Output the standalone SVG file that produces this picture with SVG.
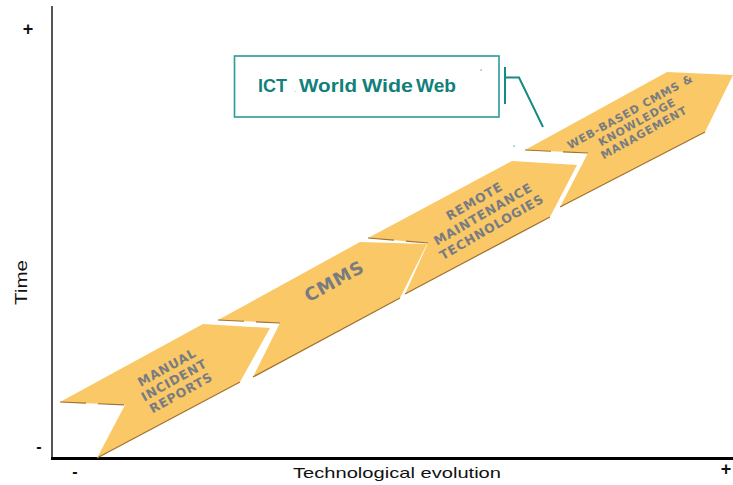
<svg xmlns="http://www.w3.org/2000/svg" width="733" height="485" viewBox="0 0 733 485">
  <style>
    .stage { fill: #FAC866; }
    .edge { fill: none; stroke: #A0712F; stroke-width: 1.2; }
    .notch { fill: none; stroke: #A0712F; stroke-width: 1.2; stroke-dasharray: 26 12; }
    .lbl { font-family: "DejaVu Sans", Verdana, sans-serif; font-weight: bold; fill: #787C81; text-anchor: middle; letter-spacing: 0.8px; }
    .axis-txt { font-family: "Liberation Sans", Arial, sans-serif; fill: #111; }
    .ict { font-family: "Liberation Sans", Arial, sans-serif; font-weight: bold; font-size: 18px; fill: #127F7B; }
    .callout { fill: none; stroke: #168A85; stroke-width: 2; }
  </style>

  <rect width="733" height="485" fill="#FFFFFF"/>

  <!-- axes -->
  <g id="axes">
    <line x1="52" y1="6" x2="52" y2="459" stroke="#555" stroke-width="2"/>
    <line x1="51" y1="458.5" x2="733" y2="458.5" stroke="#000" stroke-width="3"/>
    <text class="axis-txt" x="28" y="35" font-size="18" font-weight="bold" text-anchor="middle">+</text>
    <text class="axis-txt" x="39" y="452" font-size="16" font-weight="bold" text-anchor="middle">-</text>
    <text class="axis-txt" x="75" y="477" font-size="16" font-weight="bold" text-anchor="middle">-</text>
    <text class="axis-txt" x="726" y="475" font-size="18" font-weight="bold" text-anchor="middle">+</text>
    <text class="axis-txt" font-size="17" transform="translate(27,305) rotate(-90)" textLength="45" lengthAdjust="spacingAndGlyphs">Time</text>
    <text class="axis-txt" x="293" y="478" font-size="15" textLength="208" lengthAdjust="spacingAndGlyphs">Technological evolution</text>
  </g>

  <!-- stage 1 -->
  <g id="manual-incident-reports">
    <polygon class="stage" points="60,402 203,324 270,328 240,382 97,458 125,405"/>
    <polyline class="edge" points="240,382 97,458"/>
    <polyline class="notch" points="60,402 125,405"/>
    <g transform="translate(174,380) rotate(-29)">
      <text class="lbl" font-size="12.5" x="0" y="-10">MANUAL</text>
      <text class="lbl" font-size="12.5" x="0" y="4.5">INCIDENT</text>
      <text class="lbl" font-size="12.5" x="0" y="19">REPORTS</text>
    </g>
  </g>

  <!-- stage 2 -->
  <g id="cmms">
    <polygon class="stage" points="218,320 360,242 427,244 400,298 253,377 280,323"/>
    <polyline class="edge" points="400,298 253,377"/>
    <polyline class="notch" points="218,320 280,323"/>
    <text class="lbl" font-size="18" transform="translate(334,281) rotate(-29)" x="0" y="6.5">CMMS</text>
  </g>

  <!-- stage 3 -->
  <g id="remote-maintenance">
    <polygon class="stage" points="368,238 512,161 577,165 550,217 405,294 428,243"/>
    <polyline class="edge" points="550,217 405,294"/>
    <polyline class="notch" points="368,238 428,243"/>
    <g transform="translate(483,214) rotate(-30)">
      <text class="lbl" font-size="12.5" x="-1" y="-11">REMOTE</text>
      <text class="lbl" font-size="12.5" x="0" y="4.5">MAINTENANCE</text>
      <text class="lbl" font-size="12.5" x="1" y="20">TECHNOLOGIES</text>
    </g>
  </g>

  <!-- stage 4 -->
  <g id="web-based-cmms">
    <polygon class="stage" points="525,150 667,72 733,75 705,132 560,207 588,153"/>
    <polyline class="edge" points="705,132 560,207"/>
    <polyline class="notch" points="525,150 588,153"/>
    <g transform="translate(637,122) rotate(-29)">
      <text class="lbl" font-size="11" x="-1" y="-8.5">WEB-BASED CMMS &amp;</text>
      <text class="lbl" font-size="11" x="0" y="4">KNOWLEDGE</text>
      <text class="lbl" font-size="11" x="1" y="16.5">MANAGEMENT</text>
    </g>
  </g>

  <!-- ICT callout box -->
  <g id="ict-box">
    <rect x="234.5" y="56" width="264.5" height="61" fill="#FFFFFF" stroke="#2A9C97" stroke-width="1.6"/>
    <text class="ict" y="92">
      <tspan x="258" textLength="29" lengthAdjust="spacingAndGlyphs">ICT</tspan><tspan x="294" font-size="8" font-weight="normal" fill="#6FB5B1">.</tspan><tspan x="299" textLength="58" lengthAdjust="spacingAndGlyphs">World</tspan><tspan x="362" textLength="51" lengthAdjust="spacingAndGlyphs">Wide</tspan><tspan x="416" textLength="40" lengthAdjust="spacingAndGlyphs">Web</tspan>
    </text>
    <rect x="480.5" y="69.5" width="1.2" height="1.2" fill="#2A9C97"/>
  </g>

  <!-- callout connector -->
  <g id="connectors">
    <line class="callout" x1="505" y1="67" x2="505" y2="104" stroke-width="1.6"/>
    <polyline class="callout" points="505,77.5 519,77.5 543,127"/>
    <rect x="513.5" y="145.5" width="1.2" height="1.2" fill="#2A9C97"/>
  </g>
</svg>
